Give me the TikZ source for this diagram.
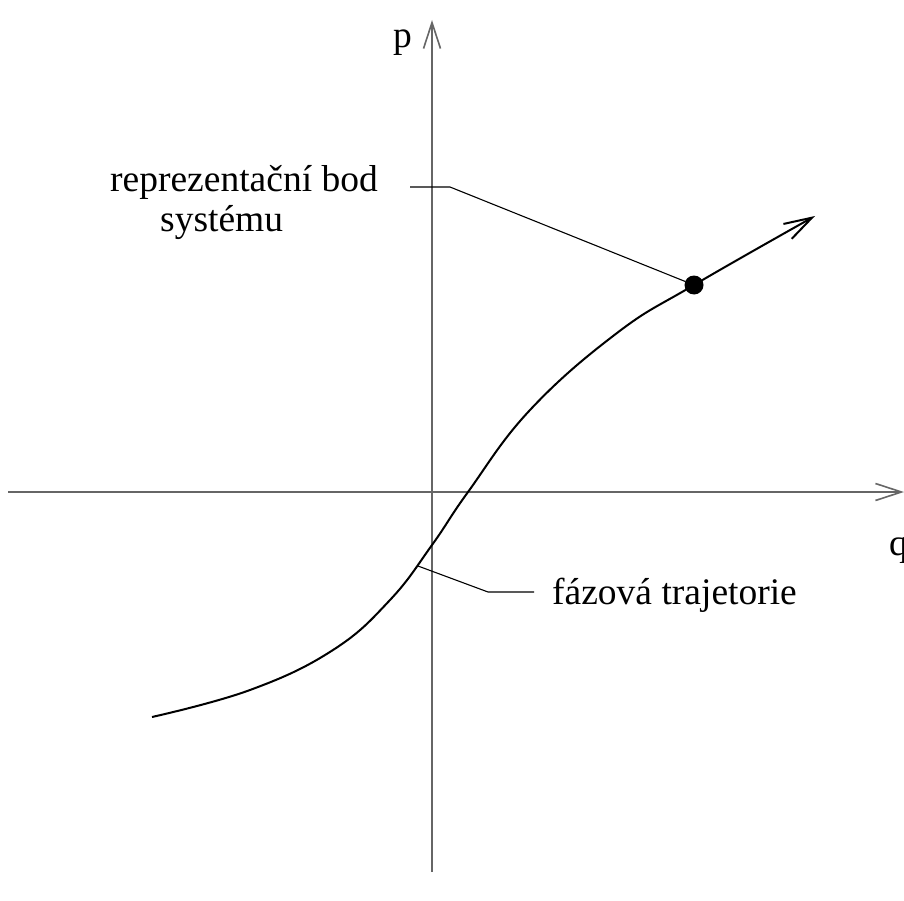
\documentclass[tikz,border=0pt]{standalone}
\usepackage{fontspec}
\setmainfont{Liberation Serif}
\usetikzlibrary{arrows.meta}
\begin{document}
\begin{tikzpicture}[x=1pt,y=-1pt,
  axis/.style={draw=black!60, line width=1.4pt, -{Straight Barb[length=26pt,width=17pt,line width=1.6pt]}},
  traj/.style={draw=black, line width=2pt, -{Straight Barb[length=28pt,width=17pt,line width=2pt]}},
  leader/.style={draw=black, line width=1.1pt},
  lbl/.style={inner sep=0pt, anchor=base west, font=\fontsize{37.5}{40}\selectfont}]
\useasboundingbox (0,0) rectangle (904,901);
% axes
\coordinate (ybot) at (432,872);
\coordinate (ytop) at (432,20);
\coordinate (xleft) at (8,492);
\coordinate (xright) at (904,492);
\draw[axis] (ybot) -- (ytop);
\draw[axis] (xleft) -- (xright);
\node[lbl] (plab) at (393,48) {p};
\node[lbl] (qlab) at (889,555) {q};
% trajectory
\draw[traj] plot[smooth, tension=0.7] coordinates {(152,717) (250,690) (333,650) (390,600) (432,545) (468,492) (530,410) (617,333) (694,285) (815,216)};
\node[circle, fill=black, inner sep=0pt, minimum size=19pt] (dot) at (694,285) {};
\coordinate (trajpt) at (418,566);
% labels
\node[lbl] (rep) at (110,192) {reprezentační bod};
\node[lbl] (sys) at (160,232) {systému};
\node[lbl] (faz) at (552,604) {fázová trajetorie};
% leaders
\coordinate (l1a) at (410,187);
\coordinate (l1b) at (450,187);
\draw[leader] (l1a) -- (l1b) -- (dot);
\coordinate (l2a) at (488,592);
\coordinate (l2b) at (534,592);
\draw[leader] (trajpt) -- (l2a) -- (l2b);
\end{tikzpicture}
\end{document}
